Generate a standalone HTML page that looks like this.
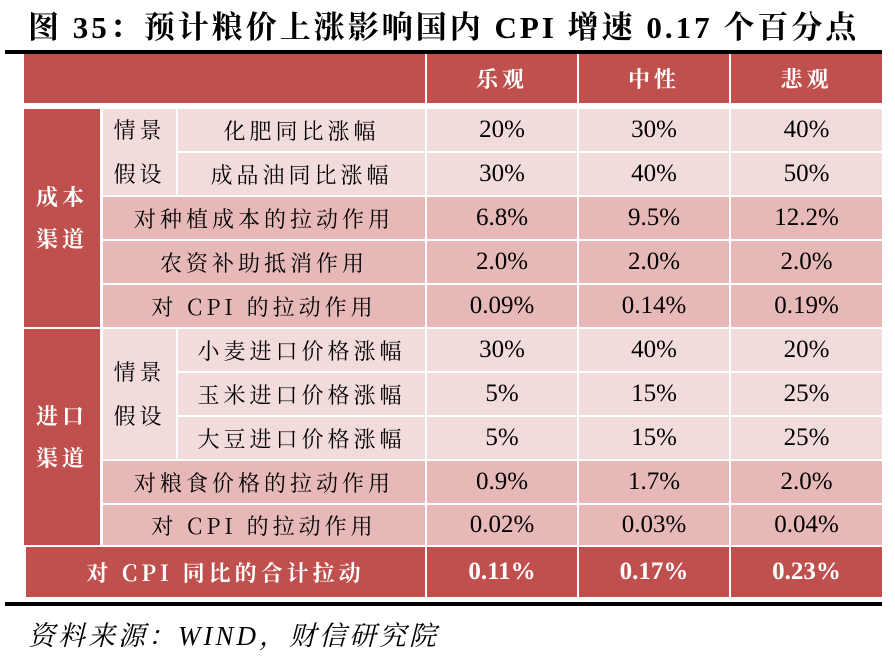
<!DOCTYPE html>
<html><head><meta charset="utf-8"><style>
body{margin:0;width:895px;height:657px;background:#fff;position:relative;overflow:hidden;font-family:"Liberation Serif","Noto Serif CJK SC",serif;}
.c{position:absolute;display:flex;align-items:center;justify-content:center;box-sizing:border-box;color:#000;font-size:22px;}
.r{background:#c0504d;color:#fff;font-weight:bold;}
.l{background:#f2dcdb;}
.d{background:#e6b9b8;}
.cn{font-family:"Noto Serif CJK SC","WenQuanYi Zen Hei",serif;font-size:22px;letter-spacing:4px;}
.n{font-size:25px;}
</style></head><body>
<div style="position:absolute;left:28px;top:2px;font-size:31px;letter-spacing:3px;font-weight:bold;white-space:nowrap;font-family:'Liberation Serif','Noto Serif CJK SC',serif;">图 35：预计粮价上涨影响国内 CPI 增速 0.17 个百分点</div>
<div style="position:absolute;left:5px;top:50px;width:877px;height:4px;background:#000"></div>
<div style="position:absolute;left:5px;top:602px;width:877px;height:4px;background:#000"></div>
<div style="position:absolute;left:28px;top:614px;font-size:27px;letter-spacing:3px;font-style:italic;font-family:'Liberation Serif','Noto Serif CJK SC',serif;white-space:nowrap;">资料来源：WIND，财信研究院</div>

<div class="c r" style="left:24px;top:54px;width:401px;height:49px"></div>
<div class="c r cn" style="left:427px;top:54px;width:150px;height:49px">乐观</div>
<div class="c r cn" style="left:579px;top:54px;width:150px;height:49px">中性</div>
<div class="c r cn" style="left:731px;top:54px;width:151px;height:49px">悲观</div>

<div class="c r cn" style="left:24px;top:109px;width:76px;height:218px;line-height:42px">成本<br>渠道</div>
<div class="c r cn" style="left:24px;top:329px;width:76px;height:216px;line-height:42px">进口<br>渠道</div>
<div class="c l cn" style="left:103px;top:109px;width:73px;height:86px;line-height:44px;text-align:center">情景<br>假设</div>
<div class="c l cn" style="left:103px;top:329px;width:73px;height:130px;line-height:44px;text-align:center">情景<br>假设</div>

<div class="c l cn" style="left:178px;top:109px;width:247px;height:42px">化肥同比涨幅</div>
<div class="c l n" style="left:427px;top:109px;width:150px;height:42px">20%</div>
<div class="c l n" style="left:579px;top:109px;width:150px;height:42px">30%</div>
<div class="c l n" style="left:731px;top:109px;width:151px;height:42px">40%</div>

<div class="c l cn" style="left:178px;top:153px;width:247px;height:42px">成品油同比涨幅</div>
<div class="c l n" style="left:427px;top:153px;width:150px;height:42px">30%</div>
<div class="c l n" style="left:579px;top:153px;width:150px;height:42px">40%</div>
<div class="c l n" style="left:731px;top:153px;width:151px;height:42px">50%</div>

<div class="c d cn" style="left:103px;top:197px;width:322px;height:42px">对种植成本的拉动作用</div>
<div class="c d n" style="left:427px;top:197px;width:150px;height:42px">6.8%</div>
<div class="c d n" style="left:579px;top:197px;width:150px;height:42px">9.5%</div>
<div class="c d n" style="left:731px;top:197px;width:151px;height:42px">12.2%</div>

<div class="c d cn" style="left:103px;top:241px;width:322px;height:42px">农资补助抵消作用</div>
<div class="c d n" style="left:427px;top:241px;width:150px;height:42px">2.0%</div>
<div class="c d n" style="left:579px;top:241px;width:150px;height:42px">2.0%</div>
<div class="c d n" style="left:731px;top:241px;width:151px;height:42px">2.0%</div>

<div class="c d cn" style="left:103px;top:285px;width:322px;height:42px">对 CPI 的拉动作用</div>
<div class="c d n" style="left:427px;top:285px;width:150px;height:42px">0.09%</div>
<div class="c d n" style="left:579px;top:285px;width:150px;height:42px">0.14%</div>
<div class="c d n" style="left:731px;top:285px;width:151px;height:42px">0.19%</div>

<div class="c l cn" style="left:178px;top:329px;width:247px;height:42px">小麦进口价格涨幅</div>
<div class="c l n" style="left:427px;top:329px;width:150px;height:42px">30%</div>
<div class="c l n" style="left:579px;top:329px;width:150px;height:42px">40%</div>
<div class="c l n" style="left:731px;top:329px;width:151px;height:42px">20%</div>

<div class="c l cn" style="left:178px;top:373px;width:247px;height:42px">玉米进口价格涨幅</div>
<div class="c l n" style="left:427px;top:373px;width:150px;height:42px">5%</div>
<div class="c l n" style="left:579px;top:373px;width:150px;height:42px">15%</div>
<div class="c l n" style="left:731px;top:373px;width:151px;height:42px">25%</div>

<div class="c l cn" style="left:178px;top:417px;width:247px;height:42px">大豆进口价格涨幅</div>
<div class="c l n" style="left:427px;top:417px;width:150px;height:42px">5%</div>
<div class="c l n" style="left:579px;top:417px;width:150px;height:42px">15%</div>
<div class="c l n" style="left:731px;top:417px;width:151px;height:42px">25%</div>

<div class="c d cn" style="left:103px;top:461px;width:322px;height:42px">对粮食价格的拉动作用</div>
<div class="c d n" style="left:427px;top:461px;width:150px;height:42px">0.9%</div>
<div class="c d n" style="left:579px;top:461px;width:150px;height:42px">1.7%</div>
<div class="c d n" style="left:731px;top:461px;width:151px;height:42px">2.0%</div>

<div class="c d cn" style="left:103px;top:505px;width:322px;height:40px">对 CPI 的拉动作用</div>
<div class="c d n" style="left:427px;top:505px;width:150px;height:40px">0.02%</div>
<div class="c d n" style="left:579px;top:505px;width:150px;height:40px">0.03%</div>
<div class="c d n" style="left:731px;top:505px;width:151px;height:40px">0.04%</div>

<div class="c r cn" style="left:26px;top:547px;width:399px;height:50px">对 CPI 同比的合计拉动</div>
<div class="c r n" style="left:427px;top:547px;width:150px;height:50px">0.11%</div>
<div class="c r n" style="left:579px;top:547px;width:150px;height:50px">0.17%</div>
<div class="c r n" style="left:731px;top:547px;width:151px;height:50px">0.23%</div>
</body></html>
